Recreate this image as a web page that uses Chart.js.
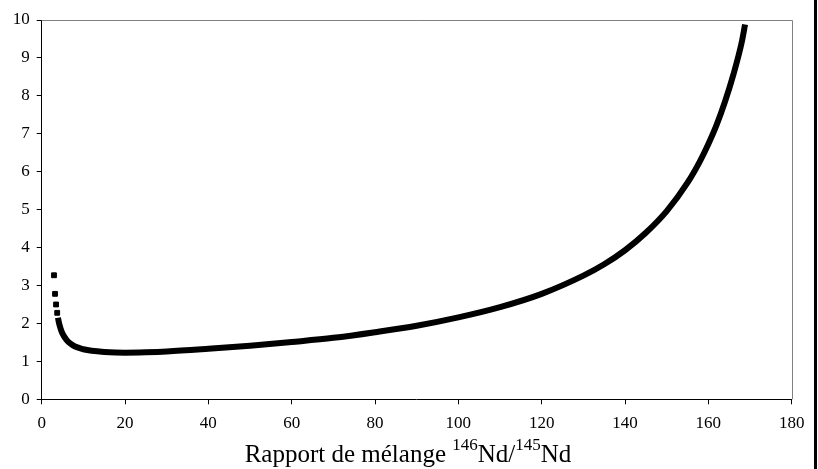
<!DOCTYPE html>
<html>
<head>
<meta charset="utf-8">
<script src="https://cdn.jsdelivr.net/npm/chart.js@4/dist/chart.umd.min.js"></script>
<style>
html,body{margin:0;padding:0;background:#fff;}
#c{display:block;}
</style>
</head>
<body>
<canvas id="c" width="818" height="469"></canvas>
<script>
// Isolated points at the low-ratio end
const sepX = [2.95, 3.2, 3.45, 3.72];
const sepY = [3.27, 2.78, 2.50, 2.28];
// Dense (continuous-looking) part of the curve
const curveX = [3.9, 4.2, 4.6, 5, 6, 7, 8, 10, 12, 15, 20, 25, 30, 40, 50, 60, 70, 80, 90, 100, 110, 120, 130, 135, 140, 145, 150, 155, 158, 160, 162, 164, 166, 168, 168.8];
const curveY = [2.15, 1.99, 1.84, 1.73, 1.56, 1.46, 1.39, 1.32, 1.28, 1.25, 1.23, 1.24, 1.26, 1.33, 1.41, 1.51, 1.62, 1.77, 1.94, 2.16, 2.43, 2.78, 3.26, 3.56, 3.93, 4.39, 4.96, 5.71, 6.28, 6.73, 7.24, 7.85, 8.56, 9.41, 9.88];
const xTicks = [0, 20, 40, 60, 80, 100, 120, 140, 160, 180];
const yTicks = [0, 1, 2, 3, 4, 5, 6, 7, 8, 9, 10];
const titleParts = [
  {t: 'Rapport de mélange ', sup: false},
  {t: '146', sup: true},
  {t: 'Nd/', sup: false},
  {t: '145', sup: true},
  {t: 'Nd', sup: false}
];

const FONT = "'Liberation Serif', 'Times New Roman', serif";

const framePlugin = {
  id: 'frame',
  beforeDatasetsDraw(chart) {
    const {ctx, chartArea: a} = chart;
    ctx.save();
    ctx.strokeStyle = '#808080';
    ctx.lineWidth = 1;
    ctx.beginPath();
    ctx.moveTo(a.left, Math.round(a.top) + 0.5);
    ctx.lineTo(Math.round(a.right) + 0.5, Math.round(a.top) + 0.5);
    ctx.lineTo(Math.round(a.right) + 0.5, a.bottom);
    ctx.stroke();
    ctx.restore();
  },
  afterDraw(chart) {
    const {ctx} = chart;
    ctx.save();
    // outer right border
    ctx.fillStyle = '#000';
    ctx.fillRect(814, 0, 3, 469);
    // axis title with superscripts
    const mainFont = '25px ' + FONT;
    const supFont = '17px ' + FONT;
    let total = 0;
    titleParts.forEach(p => {
      ctx.font = p.sup ? supFont : mainFont;
      p.w = ctx.measureText(p.t).width;
      total += p.w;
    });
    let x = 408 - total / 2;
    const base = 462;
    ctx.textBaseline = 'alphabetic';
    ctx.textAlign = 'left';
    ctx.fillStyle = '#000';
    titleParts.forEach(p => {
      ctx.font = p.sup ? supFont : mainFont;
      ctx.fillText(p.t, x, p.sup ? base - 12 : base);
      x += p.w;
    });
    ctx.restore();
  }
};

new Chart(document.getElementById('c'), {
  type: 'scatter',
  data: {
    datasets: [
      {
        data: sepX.map((x, i) => ({x: x, y: sepY[i]})),
        showLine: false,
        pointStyle: 'rect',
        pointRadius: 3.4,
        pointBorderWidth: 1,
        backgroundColor: '#000',
        borderColor: '#000'
      },
      {
        data: curveX.map((x, i) => ({x: x, y: curveY[i]})),
        showLine: true,
        borderColor: '#000',
        borderWidth: 6,
        pointRadius: 0,
        cubicInterpolationMode: 'monotone',
        fill: false
      }
    ]
  },
  options: {
    responsive: false,
    animation: false,
    devicePixelRatio: 1,
    layout: {padding: {top: 20, right: 26.3, left: 0, bottom: 0}},
    plugins: {legend: {display: false}, tooltip: {enabled: false}},
    scales: {
      x: {
        type: 'linear',
        min: 0, max: 180,
        afterBuildTicks: s => { s.ticks = xTicks.map(v => ({value: v})); },
        afterFit: s => { s.height = 69.7; },
        ticks: {color: '#000', font: {family: FONT, size: 17}, padding: 9, maxRotation: 0},
        grid: {display: true, drawOnChartArea: false, drawTicks: true, tickLength: 5, color: '#000', tickColor: '#000'},
        border: {display: true, color: '#000', width: 1}
      },
      y: {
        type: 'linear',
        min: 0, max: 10,
        afterBuildTicks: s => { s.ticks = yTicks.map(v => ({value: v})); },
        afterFit: s => { s.width = 41.7; },
        ticks: {color: '#000', font: {family: FONT, size: 17}, padding: 7},
        grid: {display: true, drawOnChartArea: false, drawTicks: true, tickLength: 5, color: '#000', tickColor: '#000'},
        border: {display: true, color: '#000', width: 1}
      }
    }
  },
  plugins: [framePlugin]
});
</script>
</body>
</html>
